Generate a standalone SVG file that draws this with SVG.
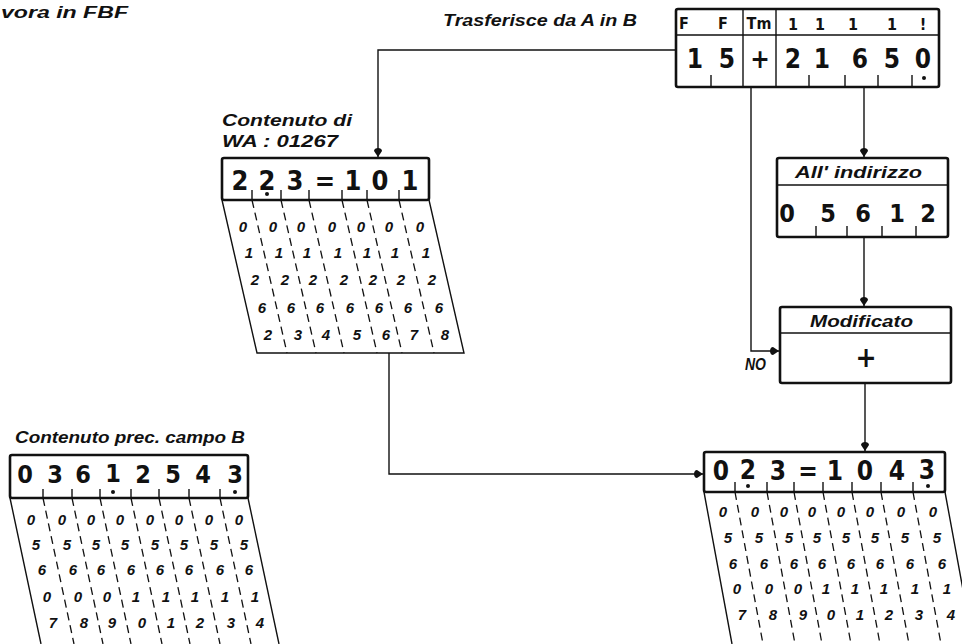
<svg xmlns="http://www.w3.org/2000/svg" width="962" height="644" viewBox="0 0 962 644">
<style>
.box{fill:#fff;stroke:#111;stroke-width:2.6}
.ln{fill:none;stroke:#111;stroke-width:1.4}
.ds{fill:none;stroke:#111;stroke-width:1.3;stroke-dasharray:8 5}
.big{font-family:"DejaVu Sans Condensed","Liberation Sans",sans-serif;font-weight:bold;text-anchor:middle;fill:#111}
.sm{font-family:"Liberation Sans",sans-serif;font-style:italic;font-weight:bold;font-size:15px;text-anchor:middle;fill:#111}
.lbl{font-family:"Liberation Sans",sans-serif;font-style:italic;font-weight:bold;font-size:16px;fill:#111}
.hd{font-family:"DejaVu Sans Condensed","Liberation Sans",sans-serif;font-weight:bold;font-size:16px;text-anchor:middle;fill:#111}
</style>
<defs>
<marker id="arr" viewBox="0 0 10 10" refX="10" refY="5" markerWidth="10" markerHeight="10" markerUnits="userSpaceOnUse" orient="auto">
<path d="M10,5 L4,1 C0,1 0,9 4,9 Z" fill="#111"/>
</marker>
</defs>
<rect width="962" height="644" fill="#fff"/>

<text class="lbl" x="1" y="18" font-size="17" textLength="127" lengthAdjust="spacingAndGlyphs">vora in FBF</text>
<text class="lbl" x="443" y="26" font-size="17" textLength="194" lengthAdjust="spacingAndGlyphs">Trasferisce da A in B</text>

<g id="connectors">
<path class="ln" d="M676,50 H378 V157" marker-end="url(#arr)"/>
<path class="ln" d="M751,87 V351 H779" marker-end="url(#arr)"/>
<path class="ln" d="M864,87 V157" marker-end="url(#arr)"/>
<path class="ln" d="M864,237 V306" marker-end="url(#arr)"/>
<path class="ln" d="M865,383 V451" marker-end="url(#arr)"/>
<path class="ln" d="M389,353 V474 H703" marker-end="url(#arr)"/>
</g>

<g id="istruzione">
<rect class="box" x="676" y="9" width="263" height="78" rx="2"/>
<path class="ln" d="M676,35 H939 M743,9 V87 M776,9 V87" stroke-width="2"/>
<text class="hd" x="684" y="29">F</text>
<text class="hd" x="723" y="29">F</text>
<text class="hd" x="759" y="29">Tm</text>
<text class="hd" x="793" y="30" font-weight="normal">1</text>
<text class="hd" x="820" y="30" font-weight="normal">1</text>
<text class="hd" x="853" y="30" font-weight="normal">1</text>
<text class="hd" x="892" y="30" font-weight="normal">1</text>
<text class="hd" x="923" y="30">!</text>
<g class="big" font-size="26">
<text x="695" y="68">1</text><text x="727" y="68">5</text><text x="760" y="68">+</text>
<text x="793" y="68">2</text><text x="822" y="68">1</text><text x="860" y="68">6</text>
<text x="892" y="68">5</text><text x="923" y="68">0</text>
</g>
<circle cx="924" cy="78" r="2" fill="#111"/>
<path class="ln" d="M711,87 V75 M809,87 V75 M845,87 V75 M878,87 V75 M912,87 V75"/>
</g>

<g id="wa">
<text class="lbl" x="222" y="126" textLength="130" lengthAdjust="spacingAndGlyphs">Contenuto di</text>
<text class="lbl" x="222" y="147" textLength="116" lengthAdjust="spacingAndGlyphs">WA : 01267</text>
<path class="ln" d="M222,200 L257,353 H464 L429,200"/>
<path class="ds" d="M252,200 L287,353 M281,200 L316,353 M309,200 L344,353 M342,200 L377,353 M367,200 L402,353 M399,200 L434,353"/>
<rect class="box" x="222" y="158" width="207" height="42" rx="2"/>
<path class="ln" d="M252,200 V190 M281,200 V190 M309,200 V190 M342,200 V190 M367,200 V190 M399,200 V190"/>
<g class="big" font-size="27">
<text x="240" y="190">2</text><text x="267" y="190">2</text><text x="295" y="190">3</text>
<text x="325" y="190">=</text><text x="353" y="190">1</text><text x="380" y="190">0</text><text x="410" y="190">1</text>
</g>
<circle cx="267" cy="194" r="2" fill="#111"/>
<g class="sm">
<text x="243" y="232">0</text><text x="273" y="232">0</text><text x="301" y="232">0</text><text x="332" y="232">0</text><text x="361" y="232">0</text><text x="389" y="232">0</text><text x="420" y="232">0</text>
<text x="249" y="258">1</text><text x="279" y="258">1</text><text x="307" y="258">1</text><text x="338" y="258">1</text><text x="367" y="258">1</text><text x="395" y="258">1</text><text x="426" y="258">1</text>
<text x="255" y="285">2</text><text x="285" y="285">2</text><text x="313" y="285">2</text><text x="344" y="285">2</text><text x="373" y="285">2</text><text x="401" y="285">2</text><text x="432" y="285">2</text>
<text x="262" y="313">6</text><text x="291" y="313">6</text><text x="320" y="313">6</text><text x="350" y="313">6</text><text x="379" y="313">6</text><text x="408" y="313">6</text><text x="439" y="313">6</text>
<text x="268" y="340">2</text><text x="298" y="340">3</text><text x="326" y="340">4</text><text x="357" y="340">5</text><text x="386" y="340">6</text><text x="414" y="340">7</text><text x="445" y="340">8</text>
</g>
</g>

<g id="indirizzo">
<rect class="box" x="777" y="158" width="171" height="79" rx="2"/>
<path class="ln" d="M777,185 H948" stroke-width="2"/>
<text class="lbl" x="795" y="178" textLength="127" lengthAdjust="spacingAndGlyphs">All' indirizzo</text>
<g class="big" font-size="25">
<text x="787" y="222">0</text><text x="828" y="222">5</text><text x="863" y="222">6</text><text x="897" y="222">1</text><text x="928" y="222">2</text>
</g>
<path class="ln" d="M816,237 V226 M847,237 V226 M882,237 V226 M916,237 V226"/>
</g>

<g id="modificato">
<rect class="box" x="780" y="307" width="171" height="76" rx="2"/>
<path class="ln" d="M780,333 H951" stroke-width="2"/>
<text class="lbl" x="810" y="327" textLength="103" lengthAdjust="spacingAndGlyphs">Modificato</text>
<text class="big" x="866" y="367" font-size="28">+</text>
<text class="lbl" x="745" y="370" font-size="10" textLength="21" lengthAdjust="spacingAndGlyphs">NO</text>
</g>

<g id="campo-b-prec">
<text class="lbl" x="15" y="443" font-size="17" textLength="230" lengthAdjust="spacingAndGlyphs">Contenuto prec. campo B</text>
<path class="ln" d="M10,498 L41,644 M248,498 L279,644"/>
<path class="ds" d="M43,498 L74,644 M72,498 L103,644 M100,498 L131,644 M131,498 L162,644 M159,498 L190,644 M189,498 L220,644 M220,498 L251,644"/>
<rect class="box" x="10" y="455" width="238" height="43" rx="2"/>
<path class="ln" d="M43,498 V489 M72,498 V489 M100,498 V489 M131,498 V489 M159,498 V489 M189,498 V489 M220,498 V489"/>
<g class="big" font-size="25">
<text x="25" y="483">0</text><text x="55" y="483">3</text><text x="83" y="483">6</text><text x="113" y="482">1</text>
<text x="143" y="483">2</text><text x="173" y="483">5</text><text x="203" y="483">4</text><text x="235" y="483">3</text>
</g>
<circle cx="113" cy="492" r="2" fill="#111"/>
<circle cx="235" cy="492" r="2" fill="#111"/>
<g class="sm">
<text x="31" y="525">0</text><text x="62" y="525">0</text><text x="91" y="525">0</text><text x="120" y="525">0</text><text x="150" y="525">0</text><text x="179" y="525">0</text><text x="209" y="525">0</text><text x="239" y="525">0</text>
<text x="36" y="550">5</text><text x="67" y="550">5</text><text x="96" y="550">5</text><text x="125" y="550">5</text><text x="155" y="550">5</text><text x="184" y="550">5</text><text x="214" y="550">5</text><text x="244" y="550">5</text>
<text x="42" y="575">6</text><text x="73" y="575">6</text><text x="101" y="575">6</text><text x="131" y="575">6</text><text x="160" y="575">6</text><text x="189" y="575">6</text><text x="220" y="575">6</text><text x="249" y="575">6</text>
<text x="47" y="602">0</text><text x="78" y="602">0</text><text x="107" y="602">0</text><text x="136" y="602">1</text><text x="166" y="602">1</text><text x="195" y="602">1</text><text x="225" y="602">1</text><text x="255" y="602">1</text>
<text x="53" y="628">7</text><text x="84" y="628">8</text><text x="112" y="628">9</text><text x="142" y="628">0</text><text x="171" y="628">1</text><text x="200" y="628">2</text><text x="231" y="628">3</text><text x="260" y="628">4</text>
</g>
</g>

<g id="campo-b-nuovo">
<path class="ln" d="M704,492 L732,644 M945,492 L973,644"/>
<path class="ds" d="M735,492 L763,644 M767,492 L795,644 M794,492 L822,644 M823,492 L851,644 M852,492 L880,644 M881,492 L909,644 M913,492 L941,644"/>
<rect class="box" x="704" y="452" width="241" height="40" rx="2"/>
<path class="ln" d="M735,492 V482 M767,492 V482 M794,492 V482 M823,492 V482 M852,492 V482 M881,492 V482 M913,492 V482"/>
<g class="big" font-size="26">
<text x="721" y="480">0</text><text x="748" y="479">2</text><text x="778" y="480">3</text><text x="808" y="480">=</text>
<text x="835" y="480">1</text><text x="865" y="480">0</text><text x="897" y="480">4</text><text x="927" y="479">3</text>
</g>
<circle cx="748" cy="486" r="2" fill="#111"/>
<circle cx="928" cy="486" r="2" fill="#111"/>
<g class="sm">
<text x="723" y="517">0</text><text x="755" y="517">0</text><text x="784" y="517">0</text><text x="812" y="517">0</text><text x="841" y="517">0</text><text x="870" y="517">0</text><text x="901" y="517">0</text><text x="933" y="517">0</text>
<text x="728" y="543">5</text><text x="759" y="543">5</text><text x="789" y="543">5</text><text x="817" y="543">5</text><text x="846" y="543">5</text><text x="875" y="543">5</text><text x="905" y="543">5</text><text x="937" y="543">5</text>
<text x="733" y="569">6</text><text x="764" y="569">6</text><text x="794" y="569">6</text><text x="822" y="569">6</text><text x="851" y="569">6</text><text x="880" y="569">6</text><text x="910" y="569">6</text><text x="942" y="569">6</text>
<text x="737" y="594">0</text><text x="769" y="594">0</text><text x="798" y="594">0</text><text x="826" y="594">1</text><text x="855" y="594">1</text><text x="884" y="594">1</text><text x="915" y="594">1</text><text x="947" y="594">1</text>
<text x="742" y="620">7</text><text x="773" y="620">8</text><text x="803" y="620">9</text><text x="831" y="620">0</text><text x="860" y="620">1</text><text x="889" y="620">2</text><text x="919" y="620">3</text><text x="951" y="620">4</text>
</g>
</g>
</svg>
